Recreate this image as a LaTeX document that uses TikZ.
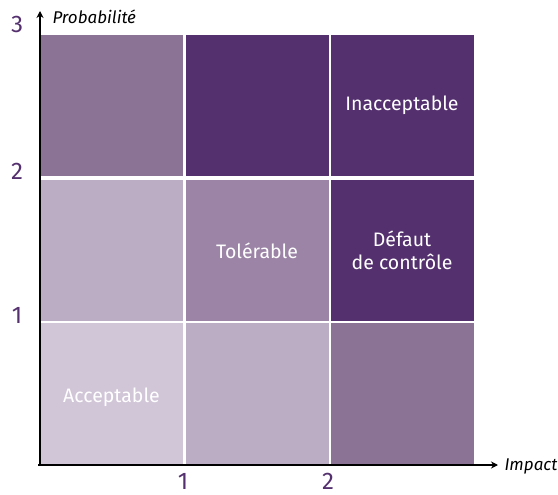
\documentclass[tikz,border=0pt]{standalone}
\usepackage{fontspec}
\setsansfont{Fira Sans}
\usepackage{xcolor}
\usetikzlibrary{arrows.meta}
\definecolor{lowrisk}{HTML}{D1C5D8}
\definecolor{lightrisk}{HTML}{BBAEC4}
\definecolor{midrisk}{HTML}{9B84A6}
\definecolor{highrisk}{HTML}{8B7396}
\definecolor{toprisk}{HTML}{54306E}

\begin{document}
\begin{tikzpicture}[x=1pt,y=-1pt,font=\sffamily,
  cell/.style={fill=#1,minimum width=143pt,minimum height=141.5pt,inner sep=0pt,text=white,align=center,font=\sffamily\fontsize{19.5}{23}\selectfont},
  tick/.style={anchor=base,inner sep=0pt,text depth=0pt,text=toprisk,font=\sffamily\fontsize{24}{25}\selectfont},
  axislabel/.style={anchor=west,font=\sffamily\itshape\fontsize{17}{19}\selectfont}]
\useasboundingbox[fill=white] (0,0) rectangle (558,495);
% risk matrix, bottom row first
\node[cell=lowrisk] (c11) at (111.5,393.5) {};
\node[cell=lightrisk] (c21) at (257,393.5) {};
\node[cell=highrisk] (c31) at (402,393.5) {};
\node[cell=lightrisk] (c12) at (111.5,250.5) {};
\node[cell=midrisk] (c22) at (257,250.5) {Tolérable};
\node[cell=toprisk] (c32) at (402,250.5) {Défaut\\de contrôle};
\node[cell=highrisk] (c13) at (111.5,105.5) {};
\node[cell=toprisk] (c23) at (257,105.5) {};
\node[cell=toprisk] (c33) at (402,105.5) {Inacceptable};
\node[text=white,font=\sffamily\fontsize{19.5}{23}\selectfont] (accept) at ([yshift=-4pt]c11.center) {Acceptable};
% axes
\coordinate (O) at (40,466);
\coordinate (ytop) at (40,11);
\coordinate (xstart) at (38,465);
\coordinate (xend) at (498,465);
\draw[line width=1.6pt,-{Stealth[length=7pt,width=7pt]}] (O) -- (ytop);
\draw[line width=1.6pt,-{Stealth[length=7pt,width=7pt]}] (xstart) -- (xend);
\node[axislabel] (ylab) at (49,17) {Probabilité};
\node[axislabel] (xlab) at (501,466) {Impact};
% graduations
\node[tick] (p3) at (17,33) {3};
\node[tick] (p2) at (17,180) {2};
\node[tick] (p1) at (17,323) {1};
\node[tick] (i1) at (183,489) {1};
\node[tick] (i2) at (328,489) {2};
\end{tikzpicture}
\end{document}
